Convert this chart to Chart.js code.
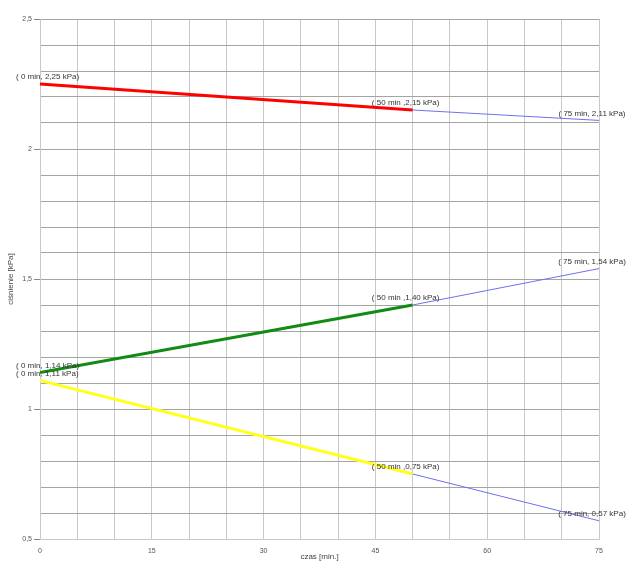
<!DOCTYPE html>
<html>
<head>
<meta charset="utf-8">
<script src="https://cdn.jsdelivr.net/npm/chart.js@4/dist/chart.umd.min.js"></script>
<style>
  html, body { margin: 0; padding: 0; background: #fff; }
  #wrap { width: 627px; height: 562px; }
</style>
</head>
<body>
<div id="wrap"><canvas id="cisnienie"></canvas></div>
<script>
// czas pomiaru [min] i ciśnienie [kPa]
const czasPomiar = [0, 50];
const czasPrognoza = [50, 75];
const czerwonaPomiar = [2.25, 2.15];
const czerwonaPrognoza = [2.15, 2.11];
const zielonaPomiar = [1.14, 1.40];
const zielonaPrognoza = [1.40, 1.54];
const zoltaPomiar = [1.11, 0.75];
const zoltaPrognoza = [0.75, 0.57];
const xTicks = [0, 15, 30, 45, 60, 75];
const yTicks = [0.5, 1, 1.5, 2, 2.5];

const fmt = v => String(v).replace('.', ',');
const pts = (xs, ys) => xs.map((x, i) => ({x: x, y: ys[i]}));

function seg(xs, ys, color, width, labelled) {
  return {
    data: pts(xs, ys),
    borderColor: color,
    borderWidth: width,
    pointRadius: 0,
    fill: false,
    tension: 0,
    labelled: labelled
  };
}

// podpisy punktów "( t min, p kPa)"
const pointLabels = {
  id: 'pointLabels',
  afterDatasetsDraw(chart) {
    const c = chart.ctx;
    c.save();
    c.font = '8px "Liberation Sans", Arial, sans-serif';
    c.fillStyle = '#333';
    c.textBaseline = 'bottom';
    c.textAlign = 'left';
    chart.data.datasets.forEach((ds, i) => {
      const meta = chart.getDatasetMeta(i);
      ds.data.forEach((p, j) => {
        if (!ds.labelled[j]) return;
        const txt = p.x === 50
          ? '( ' + p.x + ' min ,' + fmt(p.y.toFixed(2)) + ' kPa)'
          : '( ' + p.x + ' min, ' + fmt(p.y.toFixed(2)) + ' kPa)';
        const w = c.measureText(txt).width;
        let left = meta.data[j].x - 7 - w / 2;
        if (left < 16) left = 16;
        c.fillText(txt, left, meta.data[j].y - 3);
      });
    });
    c.restore();
  }
};

const blue = '#6f6ff0';

new Chart(document.getElementById('cisnienie'), {
  type: 'line',
  data: {
    datasets: [
      seg(czasPrognoza, czerwonaPrognoza, blue, 1, [false, true]),
      seg(czasPrognoza, zielonaPrognoza, blue, 1, [false, true]),
      seg(czasPrognoza, zoltaPrognoza, blue, 1, [false, true]),
      seg(czasPomiar, czerwonaPomiar, '#ff0000', 3, [true, true]),
      seg(czasPomiar, zielonaPomiar, '#138a13', 3, [true, true]),
      seg(czasPomiar, zoltaPomiar, '#ffff22', 3, [true, true])
    ]
  },
  options: {
    responsive: true,
    maintainAspectRatio: false,
    animation: false,
    layout: { padding: { top: 19, right: 28, left: 0, bottom: 0 } },
    plugins: { legend: { display: false }, tooltip: { enabled: false } },
    scales: {
      x: {
        type: 'linear',
        min: 0,
        max: 75,
        afterFit: s => { s.height = 23; },
        border: { color: '#c8c8c8' },
        grid: { color: '#c8c8c8', drawTicks: false },
        ticks: {
          stepSize: 5,
          autoSkip: false,
          maxRotation: 0,
          padding: 8,
          color: '#555',
          font: { size: 7, family: '"Liberation Sans", Arial, sans-serif' },
          callback: v => xTicks.includes(v) ? String(v) : ''
        },
        title: {
          display: true,
          text: 'czas [min.]',
          color: '#444',
          padding: { top: 0, bottom: 0 },
          font: { size: 8, family: '"Liberation Sans", Arial, sans-serif' }
        }
      },
      y: {
        min: 0.5,
        max: 2.5,
        afterFit: s => { s.width = 40; },
        border: { color: '#c8c8c8' },
        grid: {
          color: '#a4a4a4',
          tickLength: 6,
          tickColor: c => yTicks.some(t => Math.abs(t - c.tick.value) < 1e-6) ? '#888' : 'rgba(0,0,0,0)'
        },
        ticks: {
          stepSize: 0.1,
          autoSkip: false,
          padding: 2,
          color: '#555',
          font: { size: 7, family: '"Liberation Sans", Arial, sans-serif' },
          callback: v => yTicks.some(t => Math.abs(t - v) < 1e-6) ? fmt(Math.round(v * 10) / 10) : ''
        },
        title: {
          display: true,
          text: 'ciśnienie [kPa]',
          color: '#444',
          padding: { top: 6, bottom: 0 },
          font: { size: 8, family: '"Liberation Sans", Arial, sans-serif' }
        }
      }
    }
  },
  plugins: [pointLabels]
});
</script>
</body>
</html>
